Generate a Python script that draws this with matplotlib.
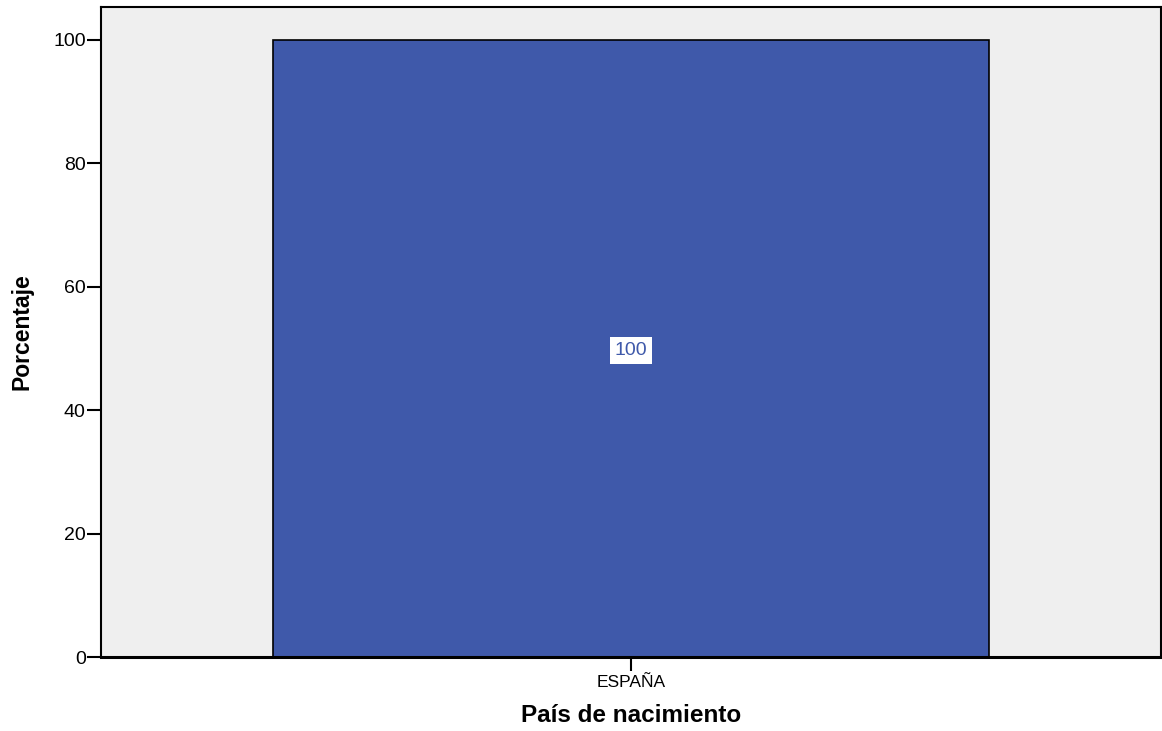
import matplotlib.pyplot as plt

plt.rcParams['font.family'] = ['Liberation Sans', 'DejaVu Sans']

categories = ['ESPAÑA']
percent = [100]
yticks = [0, 20, 40, 60, 80, 100]

fig = plt.figure(figsize=(11.62, 7.31), dpi=100)
ax = fig.add_axes([0.0869, 0.1012, 0.9121, 0.8892])
ax.set_facecolor('#efefef')

bars = ax.bar(categories, percent, width=0.675, color='#3f59aa',
              edgecolor='black', linewidth=1.2)
for b, v in zip(bars, percent):
    ax.text(b.get_x() + b.get_width() / 2, v / 2 - 0.3, f'{v:g}', ha='center', va='center',
            fontsize=14, color='#3f59aa',
            bbox=dict(facecolor='white', edgecolor='none', pad=3.5))

ax.set_xlim(-0.5, 0.5)
ax.set_ylim(0, 105.3)
ax.set_yticks(yticks)
ax.tick_params(axis='both', direction='out', length=10, width=1.5, pad=1)
ax.tick_params(axis='y', labelsize=14)
ax.tick_params(axis='x', labelsize=12.5, pad=3)
for s in ax.spines.values():
    s.set_linewidth(1.5)
ax.spines['bottom'].set_linewidth(2.2)

ax.set_ylabel('Porcentaje', fontsize=16.5, fontweight='bold', labelpad=14)
ax.set_xlabel('País de nacimiento', fontsize=17.5, fontweight='bold', labelpad=10)

fig.savefig('out.png', dpi=100)
